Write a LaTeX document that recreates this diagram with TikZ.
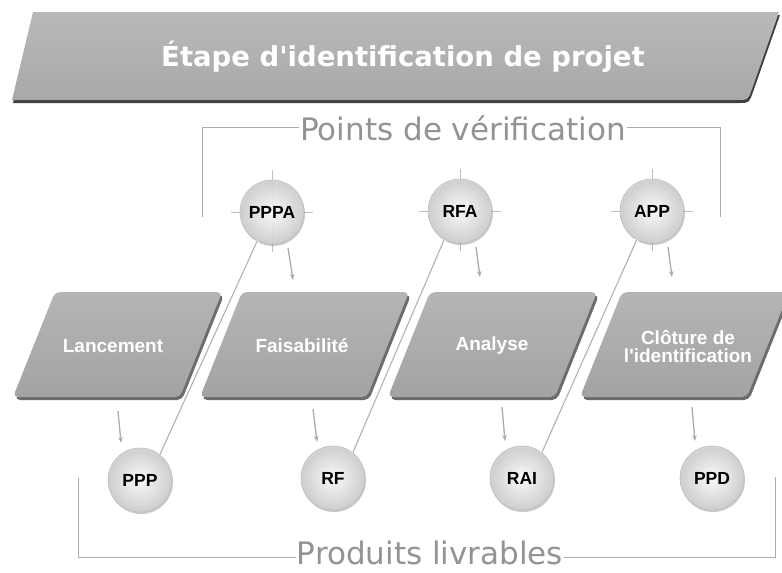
\documentclass[tikz,border=0pt]{standalone}
\usepackage{fontspec}
\newfontfamily\hdfont{DejaVu Sans}
\newfontfamily\lbfont{Liberation Sans}
\usetikzlibrary{arrows.meta,calc,shadows}
\tikzset{
  titletext/.style={text=white, font=\hdfont\bfseries\fontsize{27.5}{30}\selectfont, inner sep=0pt},
  sectlabel/.style={text=gray!85, font=\hdfont\fontsize{31}{34}\selectfont, inner sep=1pt, anchor=base},
  bracket/.style={draw=gray!65, line width=0.7pt},
  phase/.style={text=white, font=\lbfont\bfseries\fontsize{19}{18}\selectfont, align=center, inner sep=0pt},
  ball/.style={circle, minimum size=64pt, inner sep=0pt, draw=gray!50, line width=0.6pt,
    inner color=white, outer color=gray!38, fill opacity=0.9, text opacity=1,
    drop shadow={shadow xshift=1pt, shadow yshift=-2pt, opacity=0.35, fill=gray!80!black},
    font=\lbfont\bfseries\fontsize{17.5}{18}\selectfont},
  cross/.style={draw=gray!50, line width=0.6pt},
  arr/.style={draw=gray!65, line width=1.3pt, -{Stealth[length=6pt,width=4.5pt]}},
  diag/.style={draw=gray!60, line width=1.1pt, preaction={draw=white, line width=3.5pt}},
  phasepic/.pic={
    \fill[gray!85!black, rounded corners=5pt] (2,3) -- (169,3) -- (211,-102) -- (44,-102) -- cycle;
    \shade[top color=gray!58, bottom color=gray!72, rounded corners=5pt]
      (0,0) -- (167,0) -- (209,-105) -- (42,-105) -- cycle;
  }
}
\begin{document}
\begin{tikzpicture}[x=1pt,y=-1pt]
\useasboundingbox[fill=white] (0,0) rectangle (782,573);
% banner
\fill[black!75] (13,103) -- (34,15) -- (780,15) -- (753,92) .. controls (749,103) .. (739,103) -- cycle;
\shade[top color=gray!55, bottom color=gray!68]
  (33,12) -- (779,12) -- (752,89) .. controls (748,100) .. (738,100) -- (12,100) -- cycle;
\node[titletext] (title) at (403,57) {Étape d'identification de projet};

% section labels and brackets
\node[sectlabel] (pv) at (463,140) {Points de vérification};
\coordinate (pvl) at (202,217);
\coordinate (pvr) at (720,217);
\draw[bracket] (pv.west) -| (pvl);
\draw[bracket] (pv.east) -| (pvr);

\node[sectlabel] (pl) at (430,564) {Produits livrables};
\coordinate (pll) at (78,478);
\coordinate (plr) at (775,477);
\draw[bracket] ($(pl.west)+(0,5)$) -| (pll);
\draw[bracket] ($(pl.east)+(0,5)$) -| (plr);

% phase boxes
\pic at (13,397) {phasepic};
\pic at (200,397) {phasepic};
\pic at (388,397) {phasepic};
\pic at (580,397) {phasepic};
\node[phase] (lanc) at (113,346) {Lancement};
\node[phase] (fais) at (302,346) {Faisabilité};
\node[phase] (anal) at (492,346) {Analyse};
\node[phase] (clot) at (688,346) {Clôture de\\l'identification};

% crosshairs behind checkpoint circles
\coordinate (c1) at (272,212);
\coordinate (c2) at (460,211);
\coordinate (c3) at (652,211);
\foreach \n in {c1,c2,c3}{
  \draw[cross] ($(\n)+(-41,0)$) -- ($(\n)+(41,0)$);
  \draw[cross] ($(\n)+(0,-42)$) -- ($(\n)+(0,40)$);
}

% circles
\node[ball] (pppa) at (c1) {PPPA};
\node[ball] (rfa) at (c2) {RFA};
\node[ball] (app) at (c3) {APP};
\node[ball] (ppp) at (140,480) {PPP};
\node[ball] (rf) at (333,478) {RF};
\node[ball] (rai) at (522,478) {RAI};
\node[ball] (ppd) at (712,478) {PPD};

% diagonal links
\draw[diag] (pppa.243) -- (ppp.52);
\draw[diag] (rfa.241) -- (rf.52);
\draw[diag] (app.242) -- (rai.52);

% small arrows from checkpoints to boxes
\draw[arr] ($(pppa)+(16,36)$) -- ($(pppa)+(21,68)$);
\draw[arr] ($(rfa)+(16,36)$) -- ($(rfa)+(20,66)$);
\draw[arr] ($(app)+(16,36)$) -- ($(app)+(20,66)$);

% small arrows from boxes to deliverables
\draw[arr] ($(ppp)+(-22,-69)$) -- ($(ppp)+(-19,-37)$);
\draw[arr] ($(rf)+(-20,-69)$) -- ($(rf)+(-16,-36)$);
\draw[arr] ($(rai)+(-20,-71)$) -- ($(rai)+(-17,-37)$);
\draw[arr] ($(ppd)+(-20,-71)$) -- ($(ppd)+(-17,-37)$);
\end{tikzpicture}
\end{document}
